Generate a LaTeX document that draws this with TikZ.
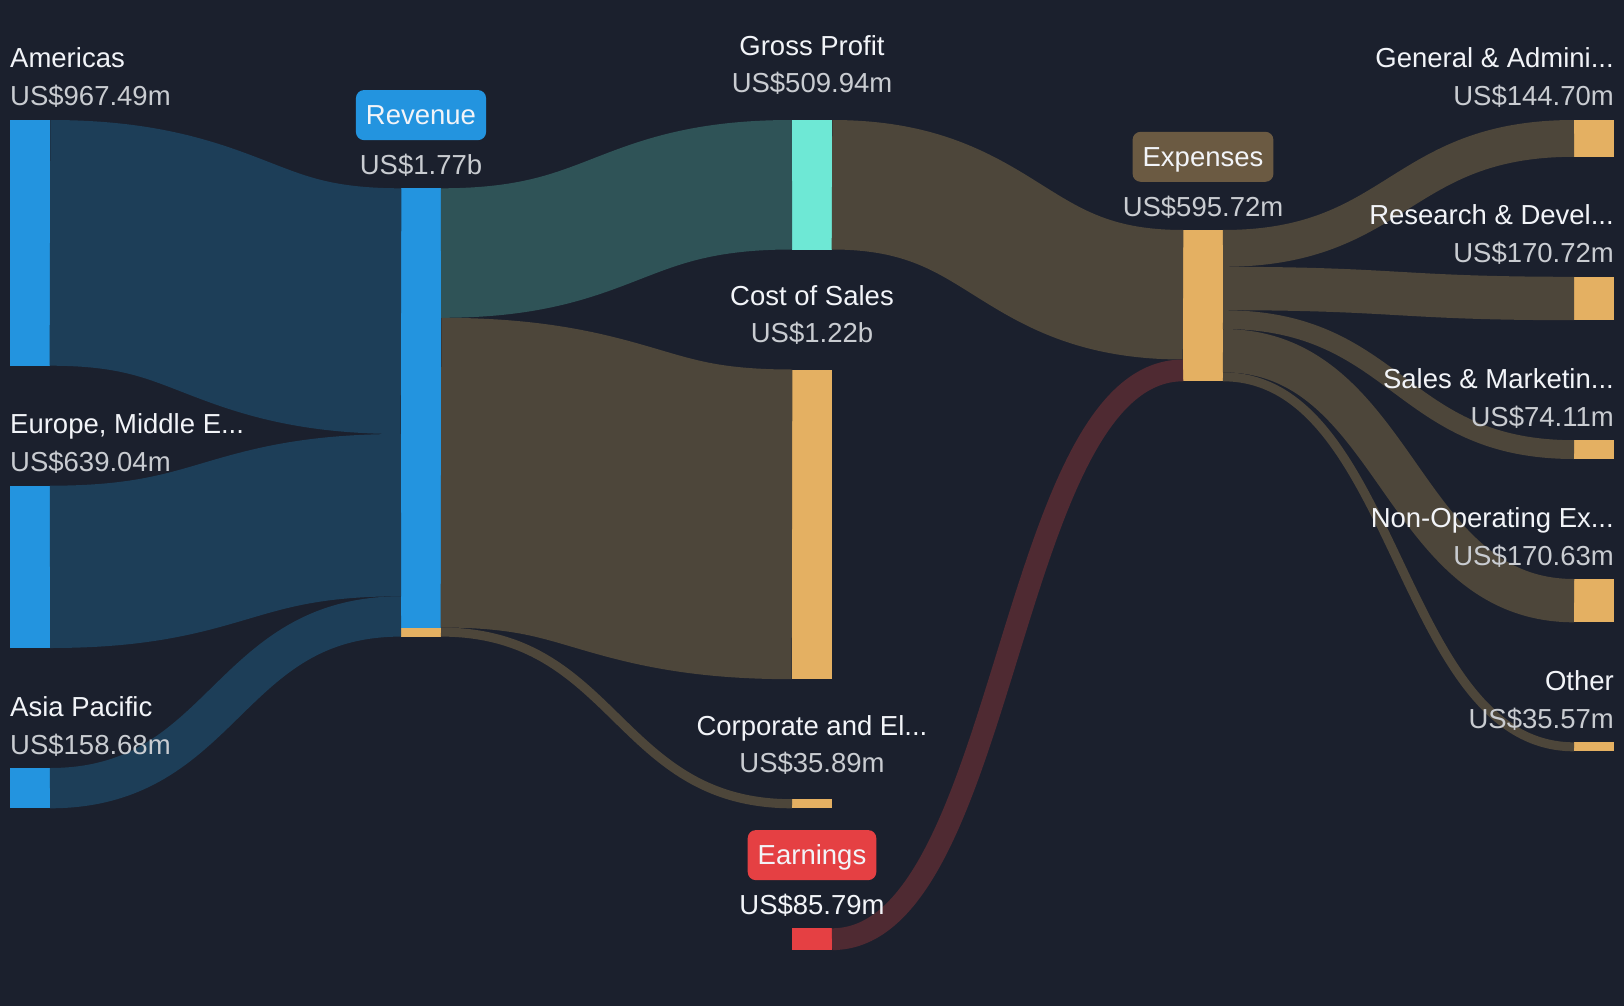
\documentclass[tikz,border=0pt]{standalone}
\usepackage{fontspec}
\setmainfont{Liberation Sans}
\usepackage{tikz}
\definecolor{sankbg}{HTML}{1B202D}
\definecolor{sankblue}{HTML}{2394DF}
\definecolor{sankteal}{HTML}{6EE8D5}
\definecolor{sankgold}{HTML}{E4B062}
\definecolor{sankred}{HTML}{E54043}
\definecolor{sankbrown}{HTML}{6B5A42}
\definecolor{flowblue}{HTML}{1D3E58}
\definecolor{flowteal}{HTML}{2F5357}
\definecolor{flowbrown}{HTML}{4D463A}
\definecolor{flowred}{HTML}{4F2A32}
\definecolor{sanktext}{HTML}{F2F4F8}
\definecolor{sankval}{HTML}{C9CCD1}

\tikzset{
  bar/.style={fill=#1, inner sep=0pt, outer sep=0pt, minimum width=40pt, anchor=north west},
  lbl/.style={text=sanktext, font=\fontsize{27.5}{33}\selectfont, inner sep=0pt},
  val/.style={text=sankval, font=\fontsize{27.5}{33}\selectfont, inner sep=0pt},
  tag/.style={fill=#1, text=sanktext, rounded corners=8pt, font=\fontsize{27.5}{33}\selectfont,
    inner xsep=10pt, inner ysep=0pt, minimum height=50pt, text height=19.7pt, text depth=0pt, anchor=south},
}
% band from one bar to the next: colour, from, offset, to, offset, width
\newcommand{\sflow}[6]{\draw[#1, line width=#6pt] ([yshift=-#3pt]#2.north east) .. controls +(175.5,0) and +(-175.5,0) .. ([yshift=-#5pt]#4.north west);}

\begin{document}
\begin{tikzpicture}[x=1pt, y=-1pt]
\fill[sankbg] (0,0) rectangle (1624,1006);
\useasboundingbox (0,0) rectangle (1624,1006);

% bars
\node[bar=sankblue, minimum height=245.7pt] (amer) at (10,120) {};
\node[bar=sankblue, minimum height=162.3pt] (emea) at (10,485.7) {};
\node[bar=sankblue, minimum height=40.3pt] (apac) at (10,768) {};
\node[bar=sankblue, minimum height=448.4pt] (rev) at (401,188.3) {};
\node[bar=sankgold, minimum height=9.1pt, anchor=south west] (revc) at (rev.south west) {};
\node[bar=sankteal, minimum height=129.5pt] (gp) at (792,120) {};
\node[bar=sankgold, minimum height=309.7pt] (cos) at (792,369.5) {};
\node[bar=sankgold, minimum height=9.1pt] (corp) at (792,799.2) {};
\node[bar=sankred, minimum height=21.8pt] (earn) at (792,928.3) {};
\node[bar=sankgold, minimum height=151.3pt] (exp) at (1183,230) {};
\node[bar=sankgold, minimum height=36.8pt] (ga) at (1574,120) {};
\node[bar=sankgold, minimum height=43.4pt] (rd) at (1574,276.8) {};
\node[bar=sankgold, minimum height=18.8pt] (sm) at (1574,440.2) {};
\node[bar=sankgold, minimum height=43.3pt] (nonop) at (1574,579) {};
\node[bar=sankgold, minimum height=9pt] (other) at (1574,742.3) {};

% flows
\sflow{flowblue}{amer}{122.85}{rev}{122.85}{245.7}
\sflow{flowblue}{emea}{81.15}{rev}{326.85}{162.3}
\sflow{flowblue}{apac}{20.15}{rev}{428.15}{40.3}
\sflow{flowteal}{rev}{64.75}{gp}{64.75}{129.5}
\sflow{flowbrown}{rev}{284.35}{cos}{154.85}{309.7}
\sflow{flowbrown}{rev}{443.75}{corp}{4.55}{9.1}
\sflow{flowbrown}{gp}{64.75}{exp}{64.75}{129.5}
\sflow{flowred}{earn}{10.9}{exp}{140.4}{21.8}
\sflow{flowbrown}{exp}{18.4}{ga}{18.4}{36.8}
\sflow{flowbrown}{exp}{58.5}{rd}{21.7}{43.4}
\sflow{flowbrown}{exp}{89.6}{sm}{9.4}{18.8}
\sflow{flowbrown}{exp}{120.65}{nonop}{21.65}{43.3}
\sflow{flowbrown}{exp}{146.8}{other}{4.5}{9}

% labels
\node[lbl, anchor=base west] (amerL) at ([yshift=52pt]amer.north west) {Americas};
\node[val, anchor=base west] (amerV) at ([yshift=14pt]amer.north west) {US\$967.49m};
\node[lbl, anchor=base west] (emeaL) at ([yshift=52pt]emea.north west) {Europe, Middle E...};
\node[val, anchor=base west] (emeaV) at ([yshift=14pt]emea.north west) {US\$639.04m};
\node[lbl, anchor=base west] (apacL) at ([yshift=52pt]apac.north west) {Asia Pacific};
\node[val, anchor=base west] (apacV) at ([yshift=14pt]apac.north west) {US\$158.68m};

\node[tag=sankblue] (revT) at ([yshift=48pt]rev.north) {Revenue};
\node[val, anchor=base] (revV) at ([yshift=14pt]rev.north) {US\$1.77b};

\node[lbl, anchor=base] (gpL) at ([yshift=64pt]gp.north) {Gross Profit};
\node[val, anchor=base] (gpV) at ([yshift=27pt]gp.north) {US\$509.94m};
\node[lbl, anchor=base] (cosL) at ([yshift=64pt]cos.north) {Cost of Sales};
\node[val, anchor=base] (cosV) at ([yshift=27pt]cos.north) {US\$1.22b};
\node[lbl, anchor=base] (corpL) at ([yshift=64pt]corp.north) {Corporate and El...};
\node[val, anchor=base] (corpV) at ([yshift=27pt]corp.north) {US\$35.89m};
\node[tag=sankred] (earnT) at ([yshift=48pt]earn.north) {Earnings};
\node[lbl, anchor=base] (earnV) at ([yshift=14pt]earn.north) {US\$85.79m};

\node[tag=sankbrown] (expT) at ([yshift=48pt]exp.north) {Expenses};
\node[val, anchor=base] (expV) at ([yshift=14pt]exp.north) {US\$595.72m};

\node[lbl, anchor=base east] (gaL) at ([yshift=52pt]ga.north east) {General \& Admini...};
\node[val, anchor=base east] (gaV) at ([yshift=14pt]ga.north east) {US\$144.70m};
\node[lbl, anchor=base east] (rdL) at ([yshift=52pt]rd.north east) {Research \& Devel...};
\node[val, anchor=base east] (rdV) at ([yshift=14pt]rd.north east) {US\$170.72m};
\node[lbl, anchor=base east] (smL) at ([yshift=52pt]sm.north east) {Sales \& Marketin...};
\node[val, anchor=base east] (smV) at ([yshift=14pt]sm.north east) {US\$74.11m};
\node[lbl, anchor=base east] (nonopL) at ([yshift=52pt]nonop.north east) {Non-Operating Ex...};
\node[val, anchor=base east] (nonopV) at ([yshift=14pt]nonop.north east) {US\$170.63m};
\node[lbl, anchor=base east] (otherL) at ([yshift=52pt]other.north east) {Other};
\node[val, anchor=base east] (otherV) at ([yshift=14pt]other.north east) {US\$35.57m};
\end{tikzpicture}
\end{document}
